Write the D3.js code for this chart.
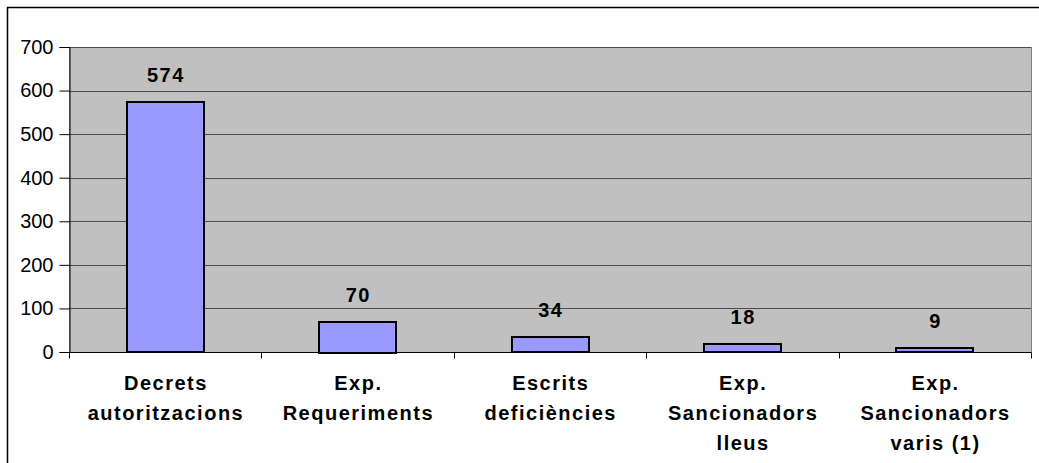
<!DOCTYPE html>
<html><head><meta charset="utf-8">
<script src="https://cdn.jsdelivr.net/npm/d3@7"></script>
<style>body{margin:0;background:#fff;}svg{display:block;font-family:"Liberation Sans",Arial,sans-serif;}</style>
</head><body>
<svg id="c" width="1039" height="463"></svg>
<script>
const categories = [["Decrets","autoritzacions"],["Exp.","Requeriments"],["Escrits","deficiències"],["Exp.","Sancionadors","lleus"],["Exp.","Sancionadors","varis (1)"]];
const values = [574, 70, 34, 18, 9];
const yTicks = [0,100,200,300,400,500,600,700];

const svg = d3.select("#c");
const L = 69, R = 1031, T = 47, B = 352;
svg.append("rect").attr("x",7.5).attr("y",7.5).attr("width",1040).attr("height",470).attr("fill","#fff").attr("stroke","#000").attr("stroke-width",1.5);

const x = d3.scaleBand().domain(d3.range(values.length)).range([L,R]).paddingInner(0.6).paddingOuter(0.3);
const xb = d3.scaleBand().domain(d3.range(values.length)).range([L,R]);
const y = d3.scaleLinear().domain([0,700]).range([B,T]);

svg.append("rect").attr("x",L+0.5).attr("y",T+0.5).attr("width",R-L).attr("height",B-T).attr("fill","#c0c0c0").attr("stroke","#808080").attr("stroke-width",1);

svg.append("g").selectAll("line").data(yTicks.filter(d=>d>0)).join("line")
  .attr("x1",L).attr("x2",R).attr("y1",d=>Math.round(y(d))+0.5).attr("y2",d=>Math.round(y(d))+0.5)
  .attr("stroke","#4d4d4d").attr("stroke-width",1);

svg.append("g").selectAll("rect").data(values).join("rect")
  .attr("x",(d,i)=>Math.round(x(i))).attr("width",Math.round(x.bandwidth()))
  .attr("y",d=>Math.round(y(d))).attr("height",d=>Math.round(B-y(d)))
  .attr("fill","#9999ff").attr("stroke","#000").attr("stroke-width",2);

// y axis
const ya = d3.axisLeft(y).tickValues(yTicks).tickSize(10).tickPadding(6);
const gy = svg.append("g").attr("transform",`translate(${L+0.5},0)`).call(ya);
gy.selectAll("text").attr("font-size",20).attr("fill","#000").attr("font-family","Liberation Sans, Arial, sans-serif");
gy.selectAll("line,path").attr("stroke","#000");

// x axis
const gx = svg.append("g").attr("transform",`translate(0,${B+0.5})`);
gx.append("line").attr("x1",L).attr("x2",R).attr("stroke","#000");
gx.selectAll("line.t").data(d3.range(values.length+1)).join("line").attr("class","t")
  .attr("x1",i=>Math.round(L+i*xb.step())+0.5).attr("x2",i=>Math.round(L+i*xb.step())+0.5)
  .attr("y1",0).attr("y2",6).attr("stroke","#000");

// value labels
svg.append("g").selectAll("text").data(values).join("text")
  .attr("x",(d,i)=>x(i)+x.bandwidth()/2+0.75).attr("y",d=>y(d)-20)
  .attr("text-anchor","middle").attr("font-size",20).attr("font-weight","bold").attr("letter-spacing",1.5).text(d=>d);

// category labels
const cl = svg.append("g").selectAll("text").data(categories).join("text")
  .attr("x",(d,i)=>xb(i)+xb.bandwidth()/2+0.75).attr("y",390)
  .attr("text-anchor","middle").attr("font-size",20).attr("font-weight","bold").attr("letter-spacing",1.5);
cl.selectAll("tspan").data(d=>d).join("tspan")
  .attr("x",function(){return this.parentNode.getAttribute("x");})
  .attr("dy",(d,i)=>i===0?0:30).text(d=>d);
</script>
</body></html>
